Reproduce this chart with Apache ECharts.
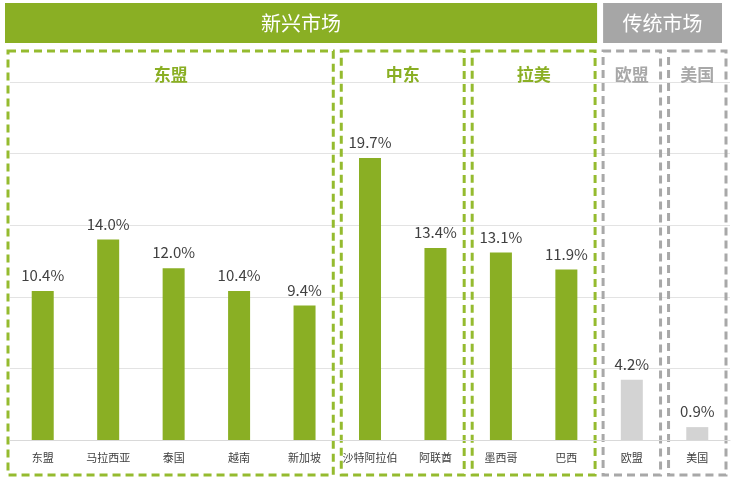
<!DOCTYPE html><html><head><meta charset="utf-8">
<script src="https://cdn.jsdelivr.net/npm/echarts@6/dist/echarts.min.js"></script>
<style>body{margin:0}#c{width:744px;height:478px}</style></head><body><div id="c"></div>
<script>
const categories=['东盟','马拉西亚','泰国','越南','新加坡','沙特阿拉伯','阿联酋','墨西哥','巴西','欧盟','美国'];
const values=[10.4,14.0,12.0,10.4,9.4,19.7,13.4,13.1,11.9,4.2,0.9];
const groups=[{name:'东盟',from:0,to:4,emerging:true},{name:'中东',from:5,to:6,emerging:true},{name:'拉美',from:7,to:8,emerging:true},{name:'欧盟',from:9,to:9,emerging:false},{name:'美国',from:10,to:10,emerging:false}];
const GREEN='#8aaf24',GRAY='#d3d3d3',BOXG='#95bb2f',BOXGR='#a8a8a8';
const chart=echarts.init(document.getElementById('c'));
const font='"Noto Sans CJK SC","Noto Sans",sans-serif';
chart.setOption({
 animation:false,
 grid:{left:10,right:14,top:82,bottom:38},
 xAxis:{type:'category',data:categories,axisTick:{show:false},axisLine:{lineStyle:{color:'#d9d9d9'}},
   axisLabel:{interval:0,color:'#404040',fontSize:11,fontFamily:font,margin:12}},
 yAxis:{type:'value',min:0,max:25,interval:5,axisLabel:{show:false},splitLine:{lineStyle:{color:'#e3e3e3'}}},
 series:[{type:'bar',barWidth:22,
   data:values.map((v,i)=>({value:v,itemStyle:{color:i>=9?GRAY:GREEN}})),
   label:{show:true,position:'top',distance:8,color:'#404040',fontSize:15,fontFamily:font,formatter:p=>p.value.toFixed(1)+'%'}}]
});
const step=chart.convertToPixel({xAxisIndex:0},1)-chart.convertToPixel({xAxisIndex:0},0);
const px=i=>chart.convertToPixel({xAxisIndex:0},i);
const g=[];
groups.forEach((gr,k)=>{
 const x0=px(gr.from)-step/2+(k===0?-2:4);
 const x1=px(gr.to)+step/2-4;
 const col=gr.emerging?BOXG:BOXGR;
 g.push({type:'rect',shape:{x:x0,y:51,width:x1-x0,height:424},style:{fill:'none',stroke:col,lineWidth:3,lineDash:[8,5]}});
 g.push({type:'text',x:(x0+x1)/2,y:75,style:{text:gr.name,fill:gr.emerging?GREEN:BOXGR,font:'bold 17px '+font,align:'center',verticalAlign:'middle'}});
});
const ex0=px(0)-step/2-5;
const ex1=px(8)+step/2-2;
const tx0=px(9)-step/2+4;
const tx1=px(10)+step/2-8;
g.push({type:'rect',shape:{x:ex0,y:3,width:ex1-ex0,height:40},style:{fill:GREEN}});
g.push({type:'text',x:(ex0+ex1)/2,y:23,style:{text:'新兴市场',fill:'#fff',font:'20px '+font,align:'center',verticalAlign:'middle'}});
g.push({type:'rect',shape:{x:tx0,y:3,width:tx1-tx0,height:40},style:{fill:'#a6a6a6'}});
g.push({type:'text',x:(tx0+tx1)/2,y:23,style:{text:'传统市场',fill:'#fff',font:'20px '+font,align:'center',verticalAlign:'middle'}});
chart.setOption({graphic:g});
</script></body></html>
